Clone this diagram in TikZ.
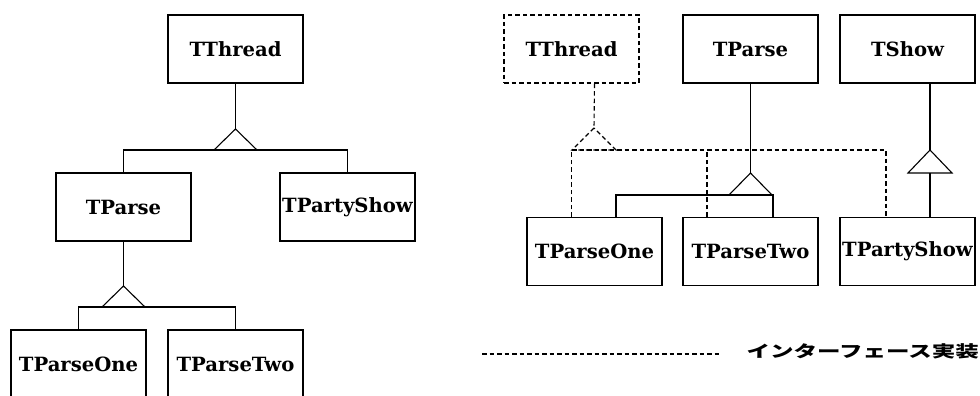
\documentclass[tikz,border=0pt]{standalone}
\usepackage{fontspec}
\setmainfont{DejaVu Serif}
\newfontfamily\jpfont{Noto Sans CJK JP}[FakeStretch=1.45]
\usepackage{tikz}

\begin{document}
\begin{tikzpicture}[%
          x=1pt,y=-1pt,
          line width=1.1pt,
          box/.style={
              draw,
              minimum width=135pt,
              minimum height=68pt,
              inner sep=0pt,
              font=\fontsize{19.6}{22}\selectfont\bfseries
            },
          iface/.style={
              dash pattern=on 4.5pt off 3pt
            }
        ]

        % 描画範囲
        \clip (0,0) rectangle (980,396);

        % 左側: 継承のみのクラス図
        \node[box] (thread) at (235.5,49) {TThread};
        \node[box] (parse) at (123.5,207) {TParse};
        \node[box] (partyshow) at (347.5,207) {TPartyShow};
        \node[box] (parseone) at (78.5,364) {TParseOne};
        \node[box] (parsetwo) at (235.5,364) {TParseTwo};

        % 座標の定義
        \coordinate (tri1) at (235.5,129);
        \coordinate (bus1) at (235.5,150);
        \coordinate (tri2) at (123.5,286);
        \coordinate (bus2) at (123.5,307);

        \draw (thread) -- (tri1);
        \draw (tri1) -- ++(-21.5,21) -- ++(43,0) -- cycle;
        \draw (parse.north) |- (bus1) -| (partyshow.north);

        \draw (parse) -- (tri2);
        \draw (tri2) -- ++(-21.5,21) -- ++(43,0) -- cycle;
        \draw (parseone.north) |- (bus2) -| (parsetwo.north);

        % 右側: インターフェースを使うクラス図
        \node[box,iface] (ithread) at (571.5,49) {TThread};
        \node[box] (rparse) at (750.5,49) {TParse};
        \node[box] (tshow) at (907.5,49) {TShow};
        \node[box] (rparseone) at (594.5,251.5) {TParseOne};
        \node[box] (rparsetwo) at (750.5,251.5) {TParseTwo};
        \node[box] (rpartyshow) at (907.5,251.5) {TPartyShow};

        \coordinate (tri3) at (750.5,173);
        \coordinate (bus3) at (750.5,195);
        \coordinate (tri4) at (594,128);
        \coordinate (bus4) at (594,150);
        \coordinate (tri5) at (930,150);

        % TParseからの継承
        \draw (rparse) -- (tri3);
        \draw (tri3) -- ++(-21.5,22) -- ++(43,0) -- cycle;
        \draw ([xshift=21.5]rparseone.north) |- (bus3) -| ([xshift=22.5]rparsetwo.north);

        % TShowからの継承
        \draw ([xshift=22.5]tshow.south) -- (tri5);
        \draw (tri5) -- ++(-22,23) -- ++(44,0) -- cycle;
        \draw ([xshift=22.5]rpartyshow.north) -- ++(0,-44);

        % インターフェースの実装(破線)
        \draw[iface] (rparseone.north |- ithread.south) -- (tri4);
        \draw[iface] (tri4) -- ++(-22,22) -- ++(44,0) -- cycle;
        \draw[iface] (ithread.south |- rparseone.north) |- (bus4)
          -| ([xshift=-21.5]rpartyshow.north);
        \draw[iface] ([xshift=-43.5]rparsetwo.north) -- ([xshift=-43.5]rparsetwo.north |- bus4);

        % 凡例
        \node[
          anchor=west,
          inner sep=0pt,
          font=\fontsize{16.2}{18}\selectfont\jpfont\bfseries
        ] (legend) at (746,351) {インターフェース実装};
        \coordinate (legstart) at (482,354);
        \draw[iface] (legstart) -- ([xshift=-26]legend.west |- legstart);

      \end{tikzpicture}
\end{document}
